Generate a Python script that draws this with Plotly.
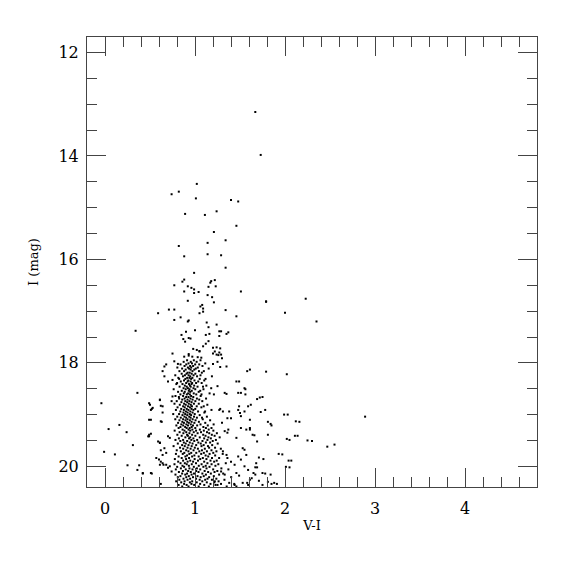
import plotly.graph_objects as go

# ---- sparse stars (V-I, I) ----
sparse_vi = [1.67, 1.73, 1.02, 0.74, 0.82, 1.01, 1.40, 1.48, 0.89, 1.11, 1.24, 1.46,
             1.21, 1.34, 1.14, 0.82, 0.88, 1.14, 1.29, 1.34, 0.99, 0.88, 0.86, 0.77,
             1.18, 1.22, 1.17, 0.92, 0.96, 0.99, 1.23, 1.15, 0.88, 0.99, 1.04, 1.51,
             1.14, 1.19, 0.92, 1.21, 1.79, 1.08, 1.06, 1.09, 0.71, 0.77, 0.59, 1.09,
             1.05, 1.34, 1.46, 0.84, 0.77, 0.93, 0.92, 1.13, 1.15, 1.24, 0.34, 0.90,
             1.00, 1.27, 1.35, 1.12, 0.85, 1.27, 0.93, 0.95, 0.87, 0.89, 1.15, 1.12,
             1.09, 0.98, 1.02, 1.24, 1.20, 1.28, 1.05, 0.75, 0.93, 0.93, 1.20, 1.26,
             0.88, 0.97, 1.03, 1.07, 1.30, 0.77, 0.81, 1.20, 0.66, 1.28, 1.16, 1.29,
             1.37, 1.22, 1.27, 1.29, 1.24, 1.05, 1.25, 1.35, 1.61, 1.46, 1.55, 1.48,
             1.33]
sparse_i = [13.15, 13.98, 14.54, 14.74, 14.69, 14.82, 14.85, 14.88, 15.12, 15.14, 15.07, 15.35,
            15.47, 15.63, 15.68, 15.74, 15.94, 15.90, 15.92, 16.16, 16.26, 16.39, 16.43, 16.50,
            16.42, 16.40, 16.45, 16.52, 16.55, 16.58, 16.52, 16.53, 16.62, 16.65, 16.63, 16.62,
            16.69, 16.73, 16.80, 16.83, 16.81, 16.88, 16.91, 16.95, 16.97, 16.97, 17.04, 17.01,
            17.04, 16.98, 17.10, 17.12, 17.17, 17.18, 17.20, 17.22, 17.31, 17.26, 17.38, 17.40,
            17.37, 17.39, 17.44, 17.46, 17.46, 17.48, 17.52, 17.53, 17.54, 17.59, 17.58, 17.63,
            17.68, 17.73, 17.75, 17.70, 17.71, 17.72, 17.77, 17.82, 17.83, 17.86, 17.82, 17.85,
            17.88, 17.88, 17.89, 17.90, 17.91, 17.97, 18.02, 18.02, 18.07, 18.08, 17.44, 17.39,
            17.41, 17.78, 17.80, 17.84, 17.84, 17.78, 17.98, 18.07, 18.13, 18.36, 18.49, 18.58,
            18.58]

# ---- red / far stars ----
red_vi = [1.79, 2.23, 2.00, 2.35, 1.58, 1.79, 2.02, 1.69, 2.89, 1.49, 1.51, 1.56,
          1.56, 1.62, 1.75, 1.49, 1.50, 2.03, 2.16, 2.05, 2.14, 2.30, 2.47, 2.55,
          1.38, 1.40, 1.37, 1.30, 1.35, 1.25, 1.28, 1.31, 1.18, 1.21, 1.36, 1.27,
          1.48, 1.59, 1.55, 1.51, 1.51, 1.57, 1.61, 1.64, 1.33, 1.36, 1.46, 1.53,
          1.55, 1.57, 1.48, 1.51, 1.36, 1.40, 1.44, 1.31, 1.35, 1.29, 1.33, 1.46,
          1.49, 1.55, 1.59, 1.22, 1.25, 1.38, 1.44, 1.53, 1.59, 1.72, 1.73, 1.78,
          1.99, 1.81, 1.84, 1.85, 1.61, 2.12, 1.61, 1.66, 1.81, 2.11, 2.02, 2.25,
          1.69, 1.93, 1.71, 1.76, 2.04, 1.68, 1.67, 1.69, 2.01, 1.65, 1.67, 1.75,
          1.78, 1.84, 1.61, 1.71, 1.81, 1.85, 1.88, 1.75, 1.91, 1.63, 1.58, 1.46,
          1.97, 2.07, 2.05]
red_i = [16.82, 16.76, 17.03, 17.20, 18.16, 18.17, 18.22, 18.70, 19.04, 18.36, 18.58, 18.51,
         18.61, 18.81, 18.66, 18.84, 18.97, 19.00, 19.14, 19.49, 19.41, 19.51, 19.62, 19.58,
         18.94, 19.07, 19.29, 19.16, 18.60, 18.45, 18.89, 18.94, 18.49, 18.61, 19.07, 18.91,
         18.91, 18.84, 18.94, 19.03, 19.26, 19.29, 19.26, 19.39, 19.32, 19.35, 19.45, 19.65,
         19.68, 19.78, 19.81, 19.87, 19.84, 19.91, 19.97, 19.71, 19.78, 20.10, 20.16, 20.13,
         20.18, 20.00, 20.07, 20.29, 20.36, 20.32, 20.36, 20.32, 20.36, 18.67, 18.95, 18.91,
         19.00, 19.14, 19.18, 19.21, 19.10, 19.13, 19.29, 19.40, 19.39, 19.41, 19.47, 19.50,
         19.52, 19.76, 19.83, 19.86, 19.89, 19.94, 20.02, 20.02, 20.01, 20.13, 20.16, 20.13,
         20.14, 20.16, 20.26, 20.28, 20.30, 20.34, 20.32, 20.36, 20.34, 20.23, 20.32, 20.39,
         19.77, 19.89, 20.02]

# ---- blue stars left of the giant branch ----
blue_vi = [-0.04, 0.04, -0.01, 0.11, 0.16, 0.24, 0.31, 0.25, 0.36, 0.38, 0.36, 0.42,
           0.52, 0.50, 0.52, 0.51, 0.49, 0.51, 0.61, 0.62, 0.63, 0.61, 0.62, 0.60,
           0.62, 0.65, 0.64, 0.68, 0.64, 0.66, 0.75, 0.70, 0.61, 0.49, 0.74, 0.75,
           0.53, 0.49, 0.62, 0.51, 0.64, 0.48, 0.49, 0.59, 0.61, 0.70, 0.72, 0.57,
           0.62, 0.64, 0.61, 0.68, 0.70, 0.72, 0.74, 0.42, 0.51, 0.66, 0.68, 0.64]
blue_i = [18.78, 19.28, 19.72, 19.77, 19.20, 19.34, 19.59, 19.98, 18.58, 19.98, 20.07, 20.14,
          20.14, 18.81, 18.89, 19.10, 19.42, 19.37, 18.72, 18.83, 19.14, 19.54, 19.69, 19.87,
          20.34, 19.97, 18.96, 18.03, 18.16, 18.26, 18.33, 18.36, 18.71, 18.78, 18.74, 18.65,
          18.87, 19.10, 19.13, 18.91, 18.84, 19.42, 19.39, 19.52, 19.55, 19.42, 19.45, 19.84,
          19.91, 19.94, 19.97, 19.97, 20.03, 20.00, 20.10, 20.13, 20.13, 19.65, 19.74, 19.78]

# ---- dense giant-branch core: I magnitude of each row and the V-I colours on that row ----
core_rows = [
    (17.95, [0.912, 0.987, 1.061]),
    (17.98, [0.874, 0.953, 1.018]),
    (18.01, [0.928, 0.966, 1.114]),
    (18.03, [0.839, 0.903, 1.002, 1.047]),
    (18.06, [0.884, 0.946, 0.979, 1.083]),
    (18.09, [0.804, 0.921, 0.958, 1.031]),
    (18.11, [0.857, 0.934, 1.009, 1.152]),
    (18.13, [0.896, 0.951, 0.992]),
    (18.16, [0.827, 0.879, 0.972, 1.044, 1.098]),
    (18.19, [0.918, 0.941, 1.076]),
    (18.21, [0.852, 0.906, 0.963, 1.004]),
    (18.24, [0.781, 0.888, 0.929, 0.984, 1.061]),
    (18.26, [0.866, 0.947, 1.023, 1.188]),
    (18.29, [0.815, 0.913, 0.938, 0.971]),
    (18.31, [0.824, 0.893, 0.957, 1.052, 1.117]),
    (18.34, [0.878, 0.926, 0.994, 1.103]),
    (18.36, [0.842, 0.918, 0.951, 1.036]),
    (18.39, [0.801, 0.902, 0.968, 1.012, 1.074]),
    (18.41, [0.793, 0.861, 0.934, 0.962]),
    (18.44, [0.887, 0.943, 0.991, 1.126]),
    (18.46, [0.829, 0.908, 0.952, 1.028, 1.089]),
    (18.49, [0.873, 0.921, 0.983]),
    (18.51, [0.763, 0.897, 0.939, 1.003, 1.094]),
    (18.54, [0.853, 0.931, 0.964, 1.058]),
    (18.56, [0.812, 0.886, 0.947, 1.041]),
    (18.59, [0.876, 0.924, 0.986, 1.162]),
    (18.61, [0.838, 0.909, 0.943, 1.014, 1.072]),
    (18.64, [0.783, 0.868, 0.957, 1.063]),
    (18.66, [0.821, 0.902, 0.928, 0.981]),
    (18.69, [0.824, 0.884, 0.949, 1.021, 1.123]),
    (18.71, [0.858, 0.917, 0.973, 1.047]),
    (18.74, [0.797, 0.892, 0.938, 1.004, 1.081]),
    (18.76, [0.849, 0.913, 0.962]),
    (18.79, [0.772, 0.879, 0.931, 0.988, 1.042]),
    (18.81, [0.831, 0.897, 0.953, 1.137]),
    (18.84, [0.868, 0.922, 0.966, 1.019, 1.097]),
    (18.86, [0.806, 0.886, 0.944, 1.071]),
    (18.89, [0.847, 0.908, 0.961, 1.003]),
    (18.91, [0.788, 0.876, 0.927, 0.982, 1.183]),
    (18.94, [0.837, 0.899, 0.948, 1.034, 1.112]),
    (18.96, [0.872, 0.918, 0.973, 1.104]),
    (18.99, [0.758, 0.823, 0.891, 0.942, 0.997]),
    (19.01, [0.861, 0.914, 0.957, 1.052]),
    (19.04, [0.803, 0.883, 0.936, 0.989, 1.132]),
    (19.06, [0.842, 0.902, 0.951, 1.021, 1.078]),
    (19.09, [0.781, 0.868, 0.917, 0.974, 1.086]),
    (19.11, [0.827, 0.894, 0.943, 1.006, 1.168]),
    (19.14, [0.859, 0.913, 0.962, 1.043]),
    (19.16, [0.812, 0.877, 0.931, 0.993, 1.114]),
    (19.19, [0.848, 0.904, 0.953, 1.061, 1.207]),
    (19.21, [0.793, 0.869, 0.922, 0.978, 1.024, 1.142]),
    (19.24, [0.838, 0.891, 0.963, 1.093]),
    (19.26, [0.818, 0.907, 0.941, 1.003, 1.121, 1.183]),
    (19.29, [0.862, 0.928, 0.971, 1.054, 1.152]),
    (19.31, [0.774, 0.883, 0.947, 1.012, 1.098, 1.204]),
    (19.34, [0.829, 0.903, 0.986, 1.067, 1.133]),
    (19.36, [0.871, 0.938, 1.029, 1.158, 1.243]),
    (19.39, [0.804, 0.912, 0.968, 1.091, 1.187]),
    (19.41, [0.852, 0.921, 1.004, 1.117, 1.218]),
    (19.44, [0.893, 0.947, 1.053, 1.149, 1.274]),
    (19.46, [0.821, 0.934, 0.982, 1.102, 1.176]),
    (19.49, [0.783, 0.868, 0.959, 1.024, 1.138, 1.232]),
    (19.51, [0.837, 0.913, 0.992, 1.083, 1.197]),
    (19.54, [0.876, 0.942, 1.037, 1.121, 1.168]),
    (19.56, [0.809, 0.897, 0.973, 1.064, 1.252]),
    (19.59, [0.857, 0.928, 1.013, 1.096, 1.191]),
    (19.61, [0.762, 0.886, 0.963, 1.072, 1.144]),
    (19.64, [0.834, 0.917, 0.998, 1.157, 1.223]),
    (19.66, [0.869, 0.951, 1.032, 1.109, 1.287]),
    (19.69, [0.797, 0.902, 0.984, 1.077, 1.183]),
    (19.71, [0.843, 0.927, 1.048, 1.132, 1.238]),
    (19.74, [0.881, 0.958, 1.014, 1.098, 1.203]),
    (19.76, [0.788, 0.864, 0.937, 1.069, 1.162, 1.308]),
    (19.79, [0.912, 0.993, 1.118, 1.224]),
    (19.81, [0.818, 0.893, 0.968, 1.041, 1.147]),
    (19.84, [0.852, 0.934, 1.087, 1.189, 1.268]),
    (19.86, [0.776, 0.901, 0.996, 1.058, 1.127]),
    (19.89, [0.868, 0.947, 1.033, 1.172, 1.241]),
    (19.91, [0.813, 0.918, 0.979, 1.102, 1.213]),
    (19.94, [0.839, 0.887, 1.011, 1.138, 1.342]),
    (19.96, [0.772, 0.908, 0.964, 1.073, 1.184, 1.259]),
    (19.99, [0.861, 0.932, 1.042, 1.119, 1.227]),
    (20.01, [0.802, 0.879, 0.987, 1.093, 1.161]),
    (20.04, [0.843, 0.938, 1.021, 1.128, 1.293]),
    (20.06, [0.787, 0.897, 0.972, 1.058, 1.202, 1.371]),
    (20.09, [0.866, 0.924, 1.013, 1.107, 1.248]),
    (20.11, [0.821, 0.953, 1.039, 1.146, 1.217]),
    (20.14, [0.857, 0.912, 0.989, 1.082, 1.176, 1.313]),
    (20.16, [0.783, 0.892, 0.962, 1.121, 1.268]),
    (20.19, [0.838, 0.931, 1.028, 1.097, 1.209]),
    (20.21, [0.809, 0.903, 0.978, 1.063, 1.157, 1.402]),
    (20.24, [0.872, 0.946, 1.012, 1.139, 1.237]),
    (20.26, [0.826, 0.917, 1.052, 1.113, 1.188, 1.327]),
    (20.29, [0.791, 0.884, 0.969, 1.081, 1.262]),
    (20.31, [0.847, 0.943, 1.019, 1.131, 1.214]),
    (20.34, [0.879, 0.961, 1.057, 1.172, 1.289, 1.436]),
    (20.36, [0.818, 0.907, 0.991, 1.103, 1.228]),
    (20.39, [0.858, 0.928, 1.041, 1.154, 1.352]),
]

core_vi = [v for _, row in core_rows for v in row]
core_i = [m for m, row in core_rows for _ in row]

all_vi = sparse_vi + red_vi + blue_vi + core_vi
all_i = sparse_i + red_i + blue_i + core_i

fig = go.Figure(go.Scatter(
    x=all_vi, y=all_i, mode="markers",
    marker=dict(symbol="square", size=2, color="black", line=dict(width=0)),
    hoverinfo="skip", showlegend=False,
))

font_family = "DejaVu Serif"
axis_common = dict(
    showgrid=False, zeroline=False, showline=True, linecolor="#444", linewidth=1,
    ticks="inside", tickcolor="#444", tickwidth=1, ticklen=19, mirror="allticks",
    tickfont=dict(family=font_family, size=16, color="black"),
)

fig.update_xaxes(
    range=[-0.2, 4.8], tick0=0, dtick=1, ticklabelstandoff=7,
    minor=dict(ticks="inside", ticklen=10, dtick=0.2, tick0=0, tickcolor="#444", tickwidth=1, showgrid=False),
    title=dict(text="V-I", font=dict(family=font_family, size=13, color="black"), standoff=3),
    **axis_common,
)
fig.update_yaxes(
    range=[20.4, 11.7], tick0=12, dtick=2, ticklabelstandoff=4,
    minor=dict(ticks="inside", ticklen=10, dtick=0.5, tick0=12, tickcolor="#444", tickwidth=1, showgrid=False),
    title=dict(text="I (mag)", font=dict(family=font_family, size=13, color="black"), standoff=16),
    **axis_common,
)

# page body adds an 8 px margin, so the figure is sized to fit the 575 px window
fig.update_layout(
    width=559, height=559,
    margin=dict(l=79, r=30, t=29, b=80),
    paper_bgcolor="white", plot_bgcolor="white",
)

fig.write_html("out.html")
